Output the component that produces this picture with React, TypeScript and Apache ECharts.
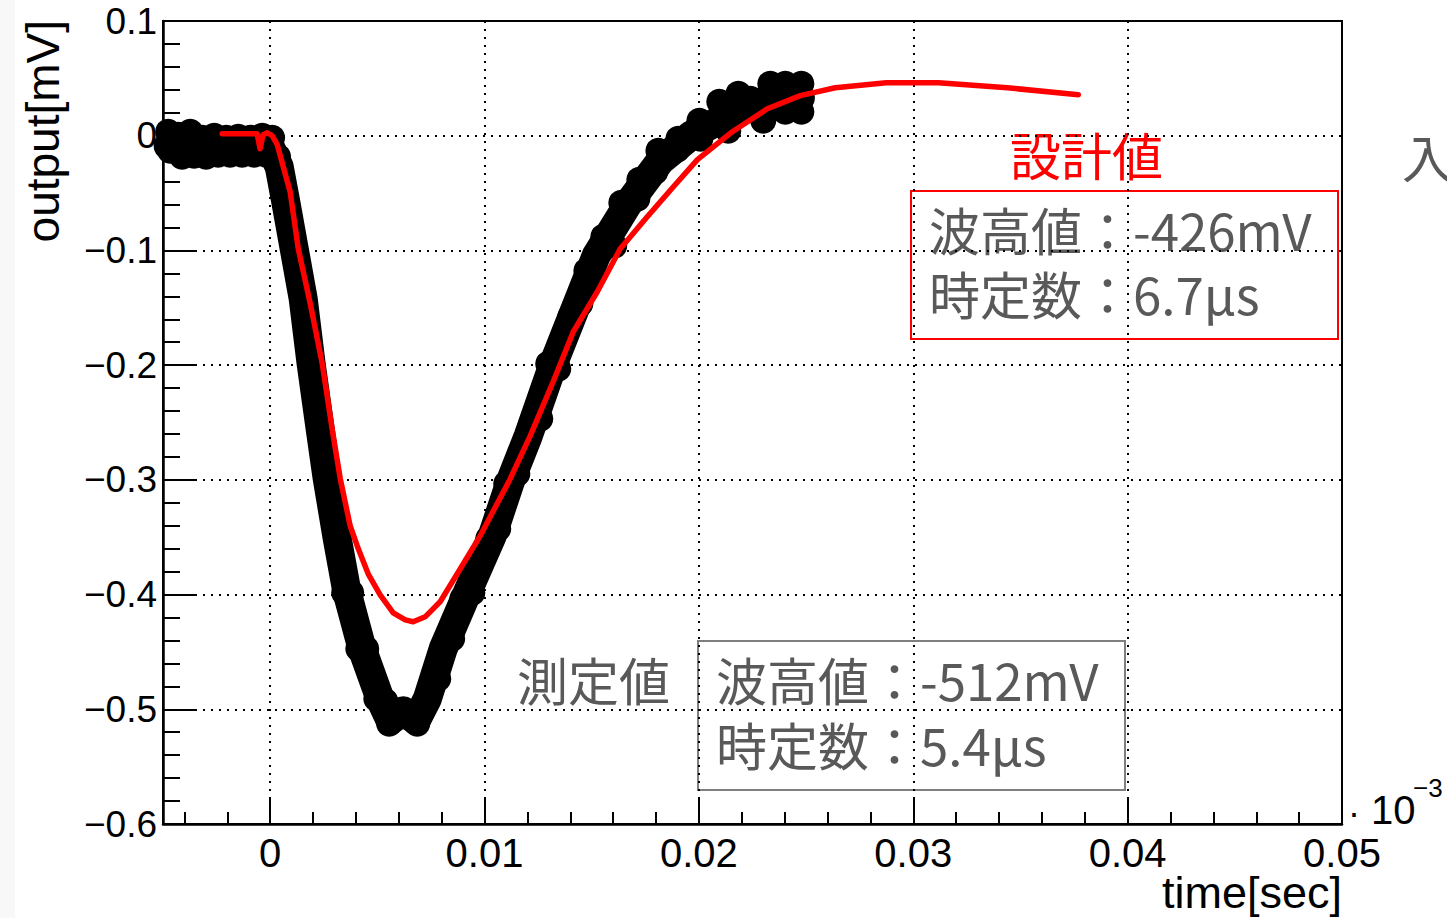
import React, { useEffect, useRef } from "react";
import * as echarts from "echarts";

const FONT = "'Liberation Sans', Arial, Helvetica, sans-serif";
const CJK = "'Noto Sans CJK JP', 'Noto Sans CJK SC', sans-serif";
const GRAY = "#595959";
const RED = "#ff0000";

// ---- axis ticks / labels ----
const xMajorTicks = [0, 0.01, 0.02, 0.03, 0.04, 0.05];
const xTickLabels = ["0", "0.01", "0.02", "0.03", "0.04", "0.05"];
const xMinorTicks = [
  -0.004, -0.002, 0.002, 0.004, 0.006, 0.008, 0.012, 0.014, 0.016, 0.018, 0.022,
  0.024, 0.026, 0.028, 0.032, 0.034, 0.036, 0.038, 0.042, 0.044, 0.046, 0.048,
];
const yMajorTicks = [-0.6, -0.5, -0.4, -0.3, -0.2, -0.1, 0, 0.1];
const yTickLabels = ["−0.6", "−0.5", "−0.4", "−0.3", "−0.2", "−0.1", "0", "0.1"];
const yMinorTicks = [
  -0.58, -0.56, -0.54, -0.52, -0.48, -0.46, -0.44, -0.42, -0.38, -0.36, -0.34, -0.32,
  -0.28, -0.26, -0.24, -0.22, -0.18, -0.16, -0.14, -0.12, -0.08, -0.06, -0.04, -0.02,
  0.02, 0.04, 0.06, 0.08,
];

// ---- measured waveform (black band) ----
const measuredTrace: [number, number][] = [
  [-0.00476, -0.0087], [0, -0.0096], [0.00042, -0.027], [0.0007, -0.0549],
  [0.00112, -0.0985], [0.00154, -0.1421], [0.00191, -0.1988], [0.00233, -0.2555],
  [0.00266, -0.299], [0.00313, -0.3514], [0.00359, -0.3985], [0.00429, -0.4473],
  [0.00513, -0.4909], [0.0056, -0.51], [0.00621, -0.5013], [0.00681, -0.51],
  [0.00733, -0.4909], [0.00807, -0.4473], [0.00919, -0.3985], [0.01036, -0.3487],
  [0.01125, -0.299], [0.01204, -0.2616], [0.01321, -0.1988], [0.01423, -0.1508],
  [0.01521, -0.1046], [0.0167, -0.0593], [0.0182, -0.0218], [0.01969, 0.0009],
  [0.02156, 0.0192], [0.0231, 0.0305], [0.02473, 0.0331],
];
const baselineUpper: [number, number][] = [
  [-0.00476, 0.0035], [-0.00429, 0.0009], [-0.00373, 0.0035], [-0.00317, -0.0017],
  [-0.00261, 0.0], [-0.00205, -0.0017], [-0.00149, -0.0009], [-0.00093, -0.0017],
  [-0.00037, 0.0], [0.00009, -0.0017],
];
const baselineLower: [number, number][] = [
  [-0.00467, -0.0131], [-0.00411, -0.0183], [-0.00355, -0.0174], [-0.00299, -0.0183],
  [-0.00243, -0.0166], [-0.00187, -0.0166], [-0.00131, -0.0166], [-0.00075, -0.0166],
  [-0.00019, -0.0166], [0.00037, -0.0183],
];
const fallPoints: [number, number][] = [
  [0.00056, -0.0418], [0.00089, -0.0767], [0.00131, -0.1203], [0.00168, -0.1683],
  [0.0021, -0.2293], [0.00247, -0.2773], [0.00285, -0.3252], [0.00336, -0.3749],
  [0.00345, -0.3985], [0.00378, -0.3985], [0.00392, -0.4229], [0.00411, -0.4473],
  [0.00448, -0.4473], [0.00467, -0.4691], [0.00495, -0.4909], [0.00537, -0.4927],
];
const bottomPoints: [number, number][] = [
  [0.00555, -0.5126], [0.00588, -0.5065], [0.00653, -0.5048], [0.00686, -0.5126],
];
const risePoints: [number, number][] = [
  [0.00784, -0.4734], [0.00849, -0.4385], [0.00863, -0.4211], [0.00896, -0.4037],
  [0.00943, -0.3985], [0.0098, -0.3731], [0.01017, -0.3514], [0.01064, -0.3426],
  [0.01073, -0.3252], [0.01101, -0.3034], [0.01153, -0.2947], [0.01167, -0.2773],
  [0.0126, -0.2467], [0.0126, -0.2293], [0.01297, -0.1988], [0.01344, -0.2031],
  [0.01367, -0.177], [0.014, -0.1578], [0.01447, -0.1465], [0.01475, -0.129],
];
const topUpper: [number, number][] = [
  [0.01475, -0.1177], [0.01554, -0.0881], [0.01638, -0.0584], [0.01722, -0.0384],
  [0.01811, -0.0131], [0.01904, -0.0026], [0.02002, 0.0131], [0.02095, 0.0296],
  [0.02184, 0.0366], [0.02333, 0.0453], [0.02403, 0.0453], [0.02478, 0.0453],
];
const topMiddle: [number, number][] = [
  [0.01717, -0.0462], [0.0196, 0.0017], [0.02007, 0.0052], [0.02053, 0.0105],
  [0.02118, 0.0174], [0.02193, 0.0235], [0.0224, 0.0323], [0.02319, 0.0296],
  [0.02403, 0.0331], [0.02478, 0.0331],
];
const topLower: [number, number][] = [
  [0.01605, -0.0959], [0.01713, -0.0549], [0.01797, -0.0314], [0.01899, -0.0122],
  [0.02007, -0.0026], [0.02137, 0.0044], [0.023, 0.0131], [0.02403, 0.0209],
  [0.02478, 0.0209],
];

// ---- design curve (red) ----
const designX = [
  -0.00224, -0.00061, -0.00047, -0.00033, -0.00014, 0.00009, 0.00033, 0.00093,
  0.00131, 0.00187, 0.00243, 0.00289, 0.00327, 0.00373, 0.00411, 0.00457, 0.00513,
  0.00574, 0.0063, 0.00667, 0.00723, 0.00793, 0.00887, 0.0098, 0.0112, 0.01213, 0.0132,
  0.01414, 0.01526, 0.01633, 0.01755, 0.01881, 0.01993, 0.02156, 0.02319, 0.02473,
  0.02636, 0.02874, 0.03117, 0.03439, 0.0377,
];
const designY = [
  0.0017, 0.0017, -0.0113, 0.0009, 0.0026, 0.0, -0.0078, -0.0488,
  -0.0985, -0.1465, -0.1988, -0.2555, -0.299, -0.34, -0.3601, -0.3819, -0.4002,
  -0.4159, -0.422, -0.4237, -0.4194, -0.4063, -0.3775, -0.3487, -0.299, -0.2616, -0.2145,
  -0.1709, -0.136, -0.0985, -0.0715, -0.0445, -0.0209, 0.0035, 0.0235, 0.0349,
  0.0418, 0.0462, 0.0462, 0.0418, 0.0357,
];

const labelFor = (ticks: number[], labels: string[], v: number) => {
  const i = ticks.findIndex((t) => Math.abs(t - v) < 1e-9);
  return i >= 0 ? labels[i] : "";
};

export default function App() {
  const ref = useRef<HTMLDivElement>(null);
  useEffect(() => {
    if (!ref.current) return;
    const chart = echarts.init(ref.current, null, { renderer: "svg" });
    const dotted = { color: "#000", width: 2, type: [2, 6] as number[] };
    const cjkText = (text: string, x: number, y: number, fill: string) => ({
      type: "text", x, y,
      style: { text, fontSize: 51, lineHeight: 56, fontFamily: CJK, fill, align: "left", verticalAlign: "middle" },
    });
    const option: any = {
      animation: false,
      backgroundColor: "#fff",
      textStyle: { fontFamily: FONT },
      grid: {
        left: 163, right: 105, top: 21, bottom: 94,
        show: true, borderColor: "#000", borderWidth: 2, backgroundColor: "transparent",
      },
      xAxis: [
        {
          type: "value", min: -0.005, max: 0.05, position: "bottom",
          axisLine: { show: true, onZero: false, lineStyle: { color: "#000", width: 2.5 } },
          axisTick: { show: true, inside: true, length: 25, customValues: xMajorTicks, lineStyle: { color: "#000", width: 2 } },
          axisLabel: {
            show: true, customValues: xMajorTicks, margin: 9, fontSize: 40, color: "#000", fontFamily: FONT,
            formatter: (v: number) => labelFor(xMajorTicks, xTickLabels, v),
          },
          splitLine: { show: true, lineStyle: dotted },
        },
        {
          type: "value", min: -0.005, max: 0.05, position: "bottom",
          axisLine: { show: false, onZero: false },
          axisTick: { show: true, inside: true, length: 12, customValues: xMinorTicks, lineStyle: { color: "#000", width: 2 } },
          axisLabel: { show: false },
          splitLine: { show: false },
        },
      ],
      yAxis: [
        {
          type: "value", min: -0.6, max: 0.1, position: "left",
          axisLine: { show: true, onZero: false, lineStyle: { color: "#000", width: 2.5 } },
          axisTick: { show: true, inside: true, length: 34, customValues: yMajorTicks, lineStyle: { color: "#000", width: 2 } },
          axisLabel: {
            show: true, customValues: yMajorTicks, margin: 6, fontSize: 37, color: "#000", fontFamily: FONT,
            formatter: (v: number) => labelFor(yMajorTicks, yTickLabels, v),
          },
          splitLine: { show: true, lineStyle: dotted },
        },
        {
          type: "value", min: -0.6, max: 0.1, position: "left",
          axisLine: { show: false, onZero: false },
          axisTick: { show: true, inside: true, length: 17, customValues: yMinorTicks, lineStyle: { color: "#000", width: 2 } },
          axisLabel: { show: false },
          splitLine: { show: false },
        },
      ],
      series: [
        {
          type: "line", name: "measured trace", data: measuredTrace, showSymbol: false,
          lineStyle: { color: "#000", width: 29, cap: "round", join: "round" },
          z: 2, silent: true,
        },
        {
          type: "scatter", name: "measured", symbol: "circle", symbolSize: 26,
          data: [
            ...baselineUpper, ...baselineLower, ...measuredTrace, ...fallPoints,
            ...bottomPoints, ...risePoints, ...topUpper, ...topMiddle, ...topLower,
          ],
          itemStyle: { color: "#000", opacity: 1 },
          z: 2, silent: true,
        },
        {
          type: "line", name: "design", data: designX.map((x, i) => [x, designY[i]]),
          showSymbol: false, smooth: false,
          lineStyle: { color: RED, width: 5.5, cap: "round", join: "round" },
          z: 3, silent: true,
        },
      ],
      graphic: [
        { type: "rect", shape: { x: 0, y: 0, width: 15, height: 918 }, style: { fill: "#f8f8f8" }, z: -10 },
        {
          type: "text", x: 43, y: 20, rotation: Math.PI / 2,
          style: { text: "output[mV]", fontSize: 46, fontFamily: FONT, fill: "#000", align: "right", verticalAlign: "middle" },
        },
        {
          type: "text", x: 1342, y: 892,
          style: { text: "time[sec]", fontSize: 45, lineHeight: 46, fontFamily: FONT, fill: "#000", align: "right", verticalAlign: "middle" },
        },
        { type: "text", x: 1348, y: 812, style: { text: "·", fontSize: 36, fontFamily: FONT, fill: "#000", align: "left", verticalAlign: "middle" } },
        { type: "text", x: 1371, y: 810, style: { text: "10", fontSize: 40, fontFamily: FONT, fill: "#000", align: "left", verticalAlign: "middle" } },
        { type: "text", x: 1413, y: 788, style: { text: "−3", fontSize: 26, fontFamily: FONT, fill: "#000", align: "left", verticalAlign: "middle" } },

        cjkText("設計値", 1010, 154, RED),
        { type: "rect", shape: { x: 911, y: 191, width: 427, height: 148 }, style: { fill: "none", stroke: RED, lineWidth: 2 } },
        cjkText("波高値：-426mV", 929, 229, GRAY),
        cjkText("時定数：6.7μs", 929, 293, GRAY),

        cjkText("測定値", 517, 679, GRAY),
        { type: "rect", shape: { x: 698, y: 641, width: 427, height: 149 }, style: { fill: "none", stroke: "#7f7f7f", lineWidth: 2 } },
        cjkText("波高値：-512mV", 716, 679, GRAY),
        cjkText("時定数：5.4μs", 716, 744, GRAY),

        cjkText("入", 1402, 156, GRAY),
      ],
    };
    chart.setOption(option);
    return () => chart.dispose();
  }, []);
  return (
    <div
      ref={ref}
      style={{ position: "fixed", left: 0, top: 0, width: 1447, height: 918, background: "#fff" }}
    />
  );
}
